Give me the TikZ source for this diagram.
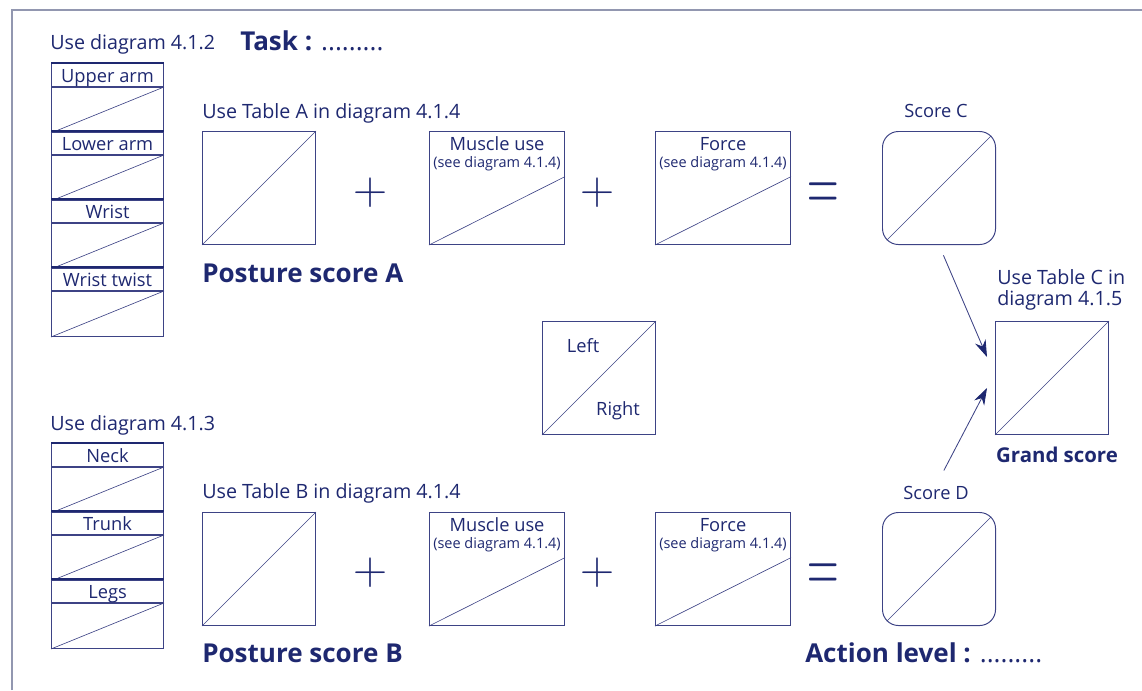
\documentclass[tikz,border=0pt]{standalone}
\usepackage{fontspec}
\setmainfont{Open Sans}
\usepackage{graphicx}
\usepackage{tikz}
\usetikzlibrary{positioning}
\usetikzlibrary{calc}
\usetikzlibrary{arrows.meta}
\definecolor{RebaNavy}{HTML}{1E2870}
\definecolor{RebaLine}{HTML}{3D4385}
\definecolor{RebaFrame}{HTML}{9297B0}

\tikzset{
  every node/.style={text=RebaNavy},
  txt/.style={font=\fontsize{13}{15.6}\selectfont, inner sep=0pt},
  usetxt/.style={font=\fontsize{14}{15.6}\selectfont, inner sep=0pt},
  hdr/.style={font=\fontsize{18.5}{21}\selectfont\bfseries, inner sep=0pt},
  note/.style={font=\fontsize{10.3}{12}\selectfont, inner sep=0pt},
  sign/.style={font=\fontsize{24.88}{25}\selectfont, inner sep=0pt},
  cell/.style={draw=RebaLine, line width=0.7pt, inner sep=0pt, anchor=north west},
  sqbox/.style={cell, minimum width=2.825cm, minimum height=2.825cm},
  widebox/.style={cell, minimum width=3.375cm, minimum height=2.825cm},
  scorebox/.style={sqbox, rounded corners=0.4cm},
  rowlbl/.style={cell, txt, minimum width=2.8cm, minimum height=0.575cm, text height=12pt, text depth=1.5pt},
  rowbox/.style={cell, minimum width=2.8cm, minimum height=1.125cm},
  diag/.style={draw=RebaLine, line width=0.45pt},
  arr/.style={draw=RebaLine, line width=0.6pt, -{Stealth[length=12pt, width=8pt, color=RebaNavy]}}
}
\newcommand{\plussign}{\scalebox{1.35}{$+$}}
\newcommand{\eqsign}{\scalebox{1.25}[2.3]{$=$}}

\begin{document}
\begin{tikzpicture}[x=0.025cm, y=-0.025cm]
    \useasboundingbox (0,0) rectangle (1142,690);
    \draw[RebaFrame, line width=0.8pt] (12,690) -- (12,10) -- (1142,10);

    % group A: arm and wrist
    \node[usetxt, anchor=base west] (useA) at (50,50) {Use diagram 4.1.2};
    \node[hdr, anchor=base west] (task) at (240,51) {Task : {\mdseries .........}};
    \foreach \lbl [count=\i from 0] in {Upper arm, Lower arm, Wrist, Wrist twist} {
      \node[rowlbl] (armlbl\i) at (51,{63+68*\i}) {\lbl};
      \draw[RebaNavy, line width=1.2pt] (armlbl\i.north west) -- (armlbl\i.north east);
      \node[rowbox] (armbox\i) at (armlbl\i.south west) {};
      \draw[diag] (armbox\i.south west) -- (armbox\i.north east);
    }

    \node[usetxt, anchor=base west] (tabA) at (202,118) {Use Table A in diagram 4.1.4};
    \node[sqbox] (sqA) at (202,131) {};
    \draw[diag] (sqA.south west) -- (sqA.north east);
    \node[hdr, anchor=base west] (postA) at (202,282) {Posture score A};

    \node[sign] (plA1) at (370,193) {\plussign};
    \node[widebox] (muA) at (429,131) {};
    \node[txt, anchor=base] at ($(muA.north)+(0,-14pt)$) {Muscle use};
    \node[note, anchor=base] at ($(muA.north)+(0,-26pt)$) {(see diagram 4.1.4)};
    \draw[diag] (muA.south west) -- ($(muA.north east)!0.4!(muA.south east)$);

    \node[sign] (plA2) at (597,193) {\plussign};
    \node[widebox] (foA) at (655,131) {};
    \node[txt, anchor=base] at ($(foA.north)+(0,-14pt)$) {Force};
    \node[note, anchor=base] at ($(foA.north)+(0,-26pt)$) {(see diagram 4.1.4)};
    \draw[diag] (foA.south west) -- ($(foA.north east)!0.4!(foA.south east)$);

    \node[sign] (eqA) at (823,197) {\eqsign};
    \node[txt, anchor=base] (lblC) at (936,117) {Score C};
    \node[scorebox] (scC) at (882,131) {};
    \draw[diag] ($(scC.south west)+(0.12cm,0.12cm)$) -- ($(scC.north east)+(-0.12cm,-0.12cm)$);

    % left / right key
    \node[sqbox] (lr) at (542,321) {};
    \draw[diag] (lr.south west) -- (lr.north east);
    \node[txt, anchor=base] (lft) at (583,352) {Left};
    \node[txt, anchor=base] (rgt) at (618,415) {Right};

    % grand score
    \node[sqbox] (grand) at (995,321) {};
    \draw[diag] (grand.south west) -- (grand.north east);
    \node[usetxt, align=left, anchor=south west] (useC) at (997,311) {Use Table C in\\diagram 4.1.5};
    \node[font=\fontsize{14.5}{16}\selectfont\bfseries, inner sep=0pt, anchor=base] (gsc) at (1057,462) {Grand score};

    % group B: neck, trunk and legs
    \node[usetxt, anchor=base west] (useB) at (50,430) {Use diagram 4.1.3};
    \foreach \lbl [count=\i from 0] in {Neck, Trunk, Legs} {
      \node[rowlbl] (neklbl\i) at (51,{443+68*\i}) {\lbl};
      \draw[RebaNavy, line width=1.2pt] (neklbl\i.north west) -- (neklbl\i.north east);
      \node[rowbox] (nekbox\i) at (neklbl\i.south west) {};
      \draw[diag] (nekbox\i.south west) -- (nekbox\i.north east);
    }

    \node[usetxt, anchor=base west] (tabB) at (202,498) {Use Table B in diagram 4.1.4};
    \node[sqbox] (sqB) at (202,512) {};
    \draw[diag] (sqB.south west) -- (sqB.north east);
    \node[hdr, anchor=base west] (postB) at (202,662) {Posture score B};

    \node[sign] (plB1) at (370,573) {\plussign};
    \node[widebox] (muB) at (429,512) {};
    \node[txt, anchor=base] at ($(muB.north)+(0,-14pt)$) {Muscle use};
    \node[note, anchor=base] at ($(muB.north)+(0,-26pt)$) {(see diagram 4.1.4)};
    \draw[diag] (muB.south west) -- ($(muB.north east)!0.4!(muB.south east)$);

    \node[sign] (plB2) at (597,573) {\plussign};
    \node[widebox] (foB) at (655,512) {};
    \node[txt, anchor=base] at ($(foB.north)+(0,-14pt)$) {Force};
    \node[note, anchor=base] at ($(foB.north)+(0,-26pt)$) {(see diagram 4.1.4)};
    \draw[diag] (foB.south west) -- ($(foB.north east)!0.4!(foB.south east)$);

    \node[sign] (eqB) at (823,578) {\eqsign};
    \node[txt, anchor=base] (lblD) at (936,499) {Score D};
    \node[scorebox] (scD) at (882,512) {};
    \draw[diag] ($(scD.south west)+(0.12cm,0.12cm)$) -- ($(scD.north east)+(-0.12cm,-0.12cm)$);
    \node[hdr, anchor=base west] (action) at (805,662) {Action level : {\mdseries .........}};

    % arrows into the grand score
    \coordinate (cTip) at (987,357);
    \coordinate (dTip) at (987,388);
    \draw[arr, shorten <=8pt] (scC.south) -- (cTip);
    \draw[arr, shorten <=12pt] (lblD.north) -- (dTip);
\end{tikzpicture}
\end{document}
